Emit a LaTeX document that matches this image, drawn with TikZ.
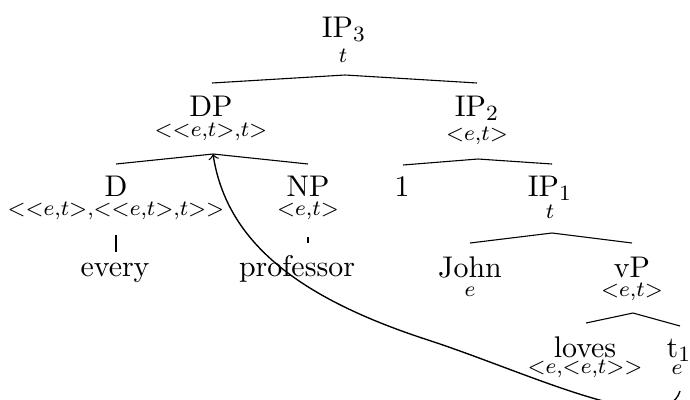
\documentclass[tikz,border=0pt,11pt]{standalone}
\begin{document}
\begin{tikzpicture}[x=0.3663pt,y=-0.3663pt,
  lbl/.style={font=\normalsize, inner sep=0pt, anchor=base},
  ty/.style={font=\normalsize, inner sep=0pt, anchor=base},
  br/.style={line width=0.4pt},
  mv/.style={line width=0.5pt, ->}]
\useasboundingbox (0,0) rectangle (690,399);
\clip (0,0) rectangle (690,399);
% nodes
\node[lbl] (ip3) at (344,37) {IP$_3$};
\node[ty] (ip3t) at (343,62) {$\scriptstyle t$};
\node[lbl] (dp) at (211,116) {DP};
\node[ty] (dpt) at (211,136) {$\scriptstyle <<e,t>,t>$};
\node[lbl] (ip2) at (477,116) {IP$_2$};
\node[ty] (ip2t) at (477,140) {$\scriptstyle <e,t>$};
\node[lbl] (d) at (116,196) {D};
\node[ty] (dt) at (116,215) {$\scriptstyle <<e,t>,<<e,t>,t>>$};
\node[lbl] (np) at (308,196) {NP};
\node[ty] (npt) at (308,215) {$\scriptstyle <e,t>$};
\node[lbl] (one) at (402,196) {1};
\node[lbl] (ip1) at (550,196) {IP$_1$};
\node[ty] (ip1t) at (550,218) {$\scriptstyle t$};
\node[lbl] (every) at (115,276) {every};
\node[lbl] (prof) at (297,276) {professor};
\node[lbl] (john) at (470,277) {John};
\node[ty] (johnt) at (470,296) {$\scriptstyle e$};
\node[lbl] (vp) at (632,277) {vP};
\node[ty] (vpt) at (632,296) {$\scriptstyle <e,t>$};
\node[lbl] (loves) at (585,357) {loves};
\node[ty] (lovest) at (585,373) {$\scriptstyle <e,<e,t>>$};
\node[lbl] (t1) at (679,357) {t$_1$};
\node[ty] (t1t) at (677,374) {$\scriptstyle e$};
% branch points
\coordinate (a3) at (345,75);  \coordinate (l3) at (212,83);  \coordinate (r3) at (477,83);
\coordinate (adp) at (213,154); \coordinate (ldp) at (116,164); \coordinate (rdp) at (308,164);
\coordinate (aip2) at (478,159); \coordinate (lip2) at (403,165); \coordinate (rip2) at (552,164);
\coordinate (aip1) at (552,233); \coordinate (lip1) at (470,243); \coordinate (rip1) at (632,243);
\coordinate (avp) at (633,313); \coordinate (lvp) at (586,323); \coordinate (rvp) at (680,326);
\coordinate (dtop) at (116,235); \coordinate (dbot) at (116,252);
\coordinate (nptop) at (308,237); \coordinate (npbot) at (308,243);
\coordinate (t1b) at (680,391); \coordinate (mid) at (428,340);
% branches
\draw[br] (l3) -- (a3) -- (r3);
\draw[br] (ldp) -- (adp) -- (rdp);
\draw[br] (lip2) -- (aip2) -- (rip2);
\draw[br] (lip1) -- (aip1) -- (rip1);
\draw[br] (lvp) -- (avp) -- (rvp);
\draw[br] (dtop) -- (dbot);
\draw[br] (nptop) -- (npbot);
% movement arrow
\draw[mv] (t1b) .. controls (665,440) and (528,372.5) .. (mid) .. controls (303.5,299.5) and (227,245) .. (adp);
\end{tikzpicture}
\end{document}
